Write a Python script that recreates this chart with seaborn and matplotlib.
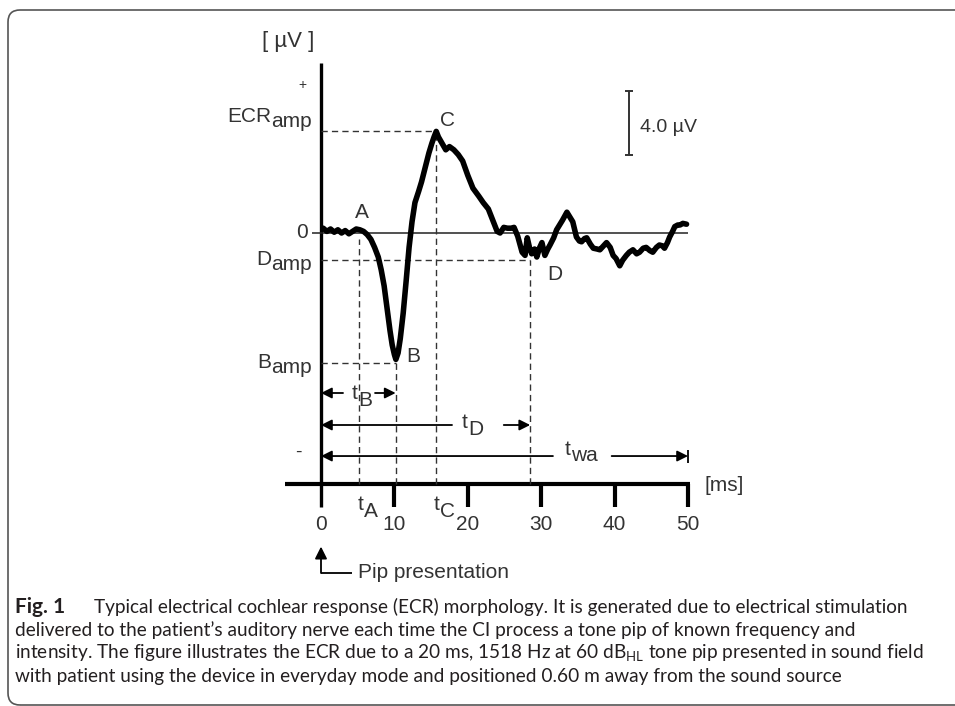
"""
Typical ECR morphology figure with caption
"""
import matplotlib

matplotlib.use("Agg")
import matplotlib.pyplot as plt
import pandas as pd
import seaborn as sns
from matplotlib.patches import FancyBboxPatch
from matplotlib.transforms import IdentityTransform

# waveform: time [ms], amplitude [µV]
time_ms = [0.3, 0.8, 1.3, 1.8, 2.3, 2.8, 3.3, 3.8, 4.3, 4.8, 5.3, 5.8, 6.3,
           6.8, 7.3, 7.8, 8.2, 8.6, 9.0, 9.4, 9.7, 10.0, 10.2, 10.5, 10.8,
           11.2, 11.6, 12.0, 12.4, 12.8, 13.3, 13.7, 14.2, 14.7, 15.1, 15.4,
           15.7, 16.0, 16.5, 17.0, 17.5, 18.1, 18.7, 19.3, 20.0, 20.7, 21.5,
           22.1, 22.8, 23.4, 24.0, 24.4, 24.9, 25.4, 25.9, 26.3, 26.8, 27.1,
           27.4, 27.8, 28.1, 28.4, 28.7, 29.1, 29.4, 29.8, 30.1, 30.5, 30.9,
           31.2, 31.7, 32.1, 32.5, 32.9, 33.5, 33.9, 34.3, 34.8, 35.2, 35.5,
           35.9, 36.2, 36.7, 37.1, 37.6, 38.0, 38.5, 38.9, 39.4, 39.8, 40.2,
           40.7, 41.1, 41.6, 42.0, 42.5, 43.0, 43.4, 43.9, 44.3, 44.8, 45.2,
           45.7, 46.1, 46.5, 46.8, 47.2, 47.5, 47.9, 48.2, 48.6, 48.9, 49.3,
           49.8]
amp_uv = [0.3, 0.1, 0.25, 0.05, 0.2, 0.0, 0.15, -0.05, 0.1, 0.25, 0.2, 0.1,
          -0.1, -0.4, -0.9, -1.5, -2.3, -3.3, -4.7, -6.1, -7.0, -7.6, -7.9,
          -7.5, -6.6, -5.0, -3.0, -0.9, 0.7, 1.9, 2.6, 3.2, 4.1, 5.0, 5.6,
          6.0, 6.35, 6.0, 5.6, 5.2, 5.4, 5.2, 4.9, 4.5, 3.6, 2.8, 2.3, 1.9,
          1.5, 0.8, 0.1, 0.0, 0.35, 0.3, 0.3, 0.35, -0.2, -0.7, -1.2, -1.4,
          -0.3, -0.9, -1.3, -1.0, -1.5, -0.9, -0.6, -1.4, -1.0, -0.75, -0.3,
          0.2, 0.5, 0.8, 1.3, 1.0, 0.7, -0.25, -0.5, -0.55, -0.35, -0.3,
          -0.7, -0.95, -1.0, -1.05, -0.8, -0.6, -0.9, -1.4, -1.6, -2.05,
          -1.7, -1.4, -1.2, -1.05, -1.3, -1.2, -0.95, -0.9, -1.1, -1.2,
          -0.9, -0.75, -0.8, -0.95, -0.6, -0.25, 0.1, 0.4, 0.5, 0.5, 0.6,
          0.55]

# landmark points of the response
peak_names = ["A", "B", "C", "D"]
peak_time = [5.2, 10.17, 15.7, 28.5]
peak_amp = [0.0, -8.1, 6.4, -1.7]
x_ticks = [0, 10, 20, 30, 40, 50]
scale_bar_uv = 4.0

caption_lines = [
    "Typical electrical cochlear response (ECR) morphology. It is generated due to electrical stimulation",
    "delivered to the patient\u2019s auditory nerve each time the CI process a tone pip of known frequency and",
    "intensity. The figure illustrates the ECR due to a 20 ms, 1518 Hz at 60 dB$_{\\mathrm{HL}}$ tone pip presented in sound field",
    "with patient using the device in everyday mode and positioned 0.60 m away from the sound source",
]

sns.set_theme(style="white")
plt.rcParams["font.family"] = ["Liberation Sans", "DejaVu Sans"]
plt.rcParams["mathtext.fontset"] = "custom"
plt.rcParams["mathtext.rm"] = "Lato"

INK = "#333333"
CAP_FONT = ["Lato", "DejaVu Sans"]
CAP_SIZE = 13.7

fig = plt.figure(figsize=(9.55, 7.06), dpi=100)
ax = fig.add_axes([0, 0, 1, 1])
# 7.34 px per ms, 16 px per µV, origin at pixel (321, 233)
ax.set_xlim(-321 / 7.34, (955 - 321) / 7.34)
ax.set_ylim((233 - 706) / 16, 233 / 16)

X_AXIS = -15.69

# axes drawn by hand, like the original sketch
ax.vlines(0, -17.1, 10.63, color="black", lw=2.4)
ax.hlines(X_AXIS, -4.9, 50.3, color="black", lw=3)
ax.vlines(x_ticks[1:], X_AXIS, -17.1, color="black", lw=3)
ax.hlines(0, -1.2, 50, color="#222222", lw=1.1)
for t in x_ticks:
    ax.text(t, -18.25, str(t), ha="center", va="center", fontsize=15, color=INK)

# dashed guides
dash = dict(color=INK, lw=1.0, linestyle=(0, (4.5, 3)))
for name, t, v in zip(peak_names, peak_time, peak_amp):
    top = v - 0.4 if name == "A" else v
    ax.vlines(t, X_AXIS, top, **dash)
    if name != "A":
        ax.hlines(v, 0, t, **dash)

df = pd.DataFrame({"time": time_ms, "amp": amp_uv})
sns.lineplot(data=df, x="time", y="amp", ax=ax, color="black", lw=4.0,
             sort=False, estimator=None)

# peak letters
letter_pos = {"A": (5.6, 1.25), "B": (12.5, -7.75), "C": (17.3, 7.06), "D": (31.9, -2.6)}
for name in peak_names:
    ax.text(*letter_pos[name], name, ha="center", va="center", fontsize=15, color=INK)


def sub_label(x, y, main, sub, drop=5, size=15, right=False):
    # main text plus a lowered same-size suffix
    if right:
        s = ax.text(x, y - drop / 16, sub, ha="right", va="baseline", fontsize=size, color=INK)
        ax.annotate(main, xy=(0, 0), xycoords=s, xytext=(0, drop * 0.72),
                    textcoords="offset points", ha="right", va="bottom",
                    fontsize=size, color=INK)
    else:
        m = ax.text(x, y, main, ha="left", va="baseline", fontsize=size, color=INK)
        ax.annotate(sub, xy=(1, 0), xycoords=m, xytext=(0.5, -drop * 0.72),
                    textcoords="offset points", ha="left", va="bottom",
                    fontsize=size, color=INK)


sub_label(-1.2, 6.94, "ECR", "amp", right=True)
sub_label(-1.2, -2.0, "D", "amp", right=True)
sub_label(-1.2, -8.44, "B", "amp", right=True)
sub_label(4.2, -10.35, "t", "B", drop=7)
sub_label(19.2, -12.2, "t", "D", drop=7)
sub_label(33.2, -13.85, "t", "wa", drop=6)
sub_label(5.0, -17.3, "t", "A", drop=7)
sub_label(15.3, -17.3, "t", "C", drop=7)

ax.text(-1.77, 0, "0", ha="right", va="center", fontsize=15, color=INK)
ax.text(-2.6, 9.25, "+", ha="center", va="center", fontsize=10, color=INK)
ax.text(-3.1, -13.7, "-", ha="center", va="center", fontsize=14, color=INK)
ax.text(-4.5, 11.94, "[ \u00b5V ]", ha="center", va="center", fontsize=16, color=INK)
ax.text(52.3, -15.8, "[ms]", ha="left", va="center", fontsize=15, color=INK)

# interval arrows
arrow = dict(arrowstyle="-|>", color="black", lw=1.3, mutation_scale=16,
             shrinkA=0, shrinkB=0)
for y, left_end, right_start, right_end in [(-10.0, 3.0, 7.36, 10.17),
                                            (-12.0, 17.85, 24.9, 28.5),
                                            (-13.94, 31.6, 39.6, 50.0)]:
    ax.annotate("", xy=(0, y), xytext=(left_end, y), arrowprops=arrow)
    ax.annotate("", xy=(right_end, y), xytext=(right_start, y), arrowprops=arrow)
ax.vlines(50.0, -14.35, -13.55, color="black", lw=1.3)

# pip presentation marker
ax.annotate("", xy=(0, -19.6), xytext=(0, -21.25),
            arrowprops=dict(arrowstyle="-|>", color="black", lw=1.3,
                            mutation_scale=18, shrinkA=0, shrinkB=0))
ax.hlines(-21.25, 0, 4.2, color="black", lw=1.3)
ax.text(5.0, -21.2, "Pip presentation", ha="left", va="center", fontsize=15, color=INK)

# 4 µV scale bar
ax.vlines(41.96, 4.875, 4.875 + scale_bar_uv, color=INK, lw=1.4)
ax.hlines([4.875, 4.875 + scale_bar_uv], 41.45, 42.5, color=INK, lw=1.4)
ax.text(43.4, 6.6, f"{scale_bar_uv:.1f} \u00b5V", ha="left", va="center", fontsize=14, color=INK)

ax.set_axis_off()

# caption panel
fig.add_artist(FancyBboxPatch((8, 1), 1100, 695, boxstyle="round,pad=0,rounding_size=12",
                              transform=IdentityTransform(), fill=False,
                              edgecolor="#555555", lw=1.2))
cap_y = [613, 636, 659, 682]
fig.text(15 / 955, 1 - cap_y[0] / 706, "Fig. 1", fontsize=15, weight="bold",
         family=CAP_FONT, va="baseline", color="#231f20")
for i, line in enumerate(caption_lines):
    x0 = 94 if i == 0 else 15
    fig.text(x0 / 955, 1 - cap_y[i] / 706, line, fontsize=CAP_SIZE, family=CAP_FONT,
             va="baseline", color="#231f20")

plt.savefig("out.png", dpi=100)
plt.close()
